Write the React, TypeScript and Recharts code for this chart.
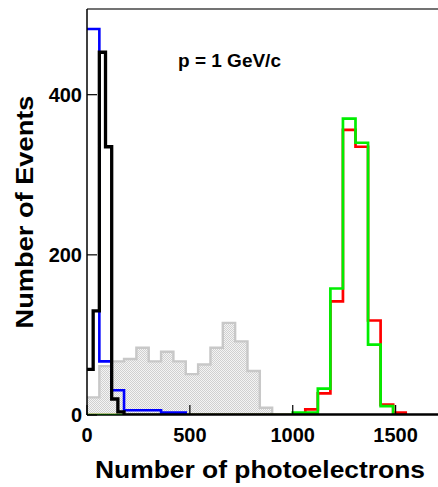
import React from 'react';
import { ComposedChart, Line, Area, XAxis, YAxis } from 'recharts';

// ---- Data ----
const X_MAX = 1706;
const Y_MAX = 507;
const xTicks = [0, 500, 1000, 1500];
const yTicks = [0, 200, 400];

// grey filled histogram: bins of width 60 starting at 0
const greyStart = 0;
const greyWidth = 60;
const greyCounts = [22, 61, 67, 70, 84, 67, 79, 67, 51, 63, 84, 115, 92, 55, 9];

// blue histogram: bins of width 60 starting at 0
const blueStart = 0;
const blueWidth = 60;
const blueCounts = [482, 67, 31, 6, 6, 6, 3, 3];

// black histogram: bins of width 30 starting at 0
const blackStart = 0;
const blackWidth = 30;
const blackCounts = [57, 130, 453, 335, 20, 4];

// green histogram: bins of width 61 starting at 1000
const greenStart = 1000;
const greenWidth = 61;
const greenCounts = [3, 3, 33, 158, 370, 340, 88, 11];

// red histogram: bins of width 61 starting at 1000
const redStart = 1000;
const redWidth = 61;
const redCounts = [0, 7, 27, 142, 356, 335, 118, 13, 3];

type Pt = { x: number; y: number };
function steps(start: number, width: number, counts: number[], lead: boolean, tail?: number): Pt[] {
  const pts: Pt[] = [];
  if (lead && start > 0) pts.push({ x: 0, y: 0 });
  counts.forEach((c, i) => pts.push({ x: start + i * width, y: c }));
  pts.push({ x: start + counts.length * width, y: 0 });
  if (tail !== undefined) pts.push({ x: tail, y: 0 });
  return pts;
}

const greyData = steps(greyStart, greyWidth, greyCounts, false);
const blueData = steps(blueStart, blueWidth, blueCounts, false);
const blackData = steps(blackStart, blackWidth, blackCounts, false, X_MAX);
const greenData = steps(greenStart, greenWidth, greenCounts, true);
const redData = steps(redStart, redWidth, redCounts, true);

const FONT = '"Liberation Sans", Arial, Helvetica, sans-serif';

const YTick = (props: any) => {
  const { x, y, payload } = props;
  return (
    <text x={x} y={y} dy="0.36em" textAnchor="end" fontFamily={FONT} fontWeight="bold" fontSize={20} fill="#000">
      {payload.value}
    </text>
  );
};

const XTick = (props: any) => {
  const { x, y, payload } = props;
  return (
    <text x={x} y={y} dy="0.72em" textAnchor="middle" fontFamily={FONT} fontWeight="bold" fontSize={20} fill="#000">
      {payload.value}
    </text>
  );
};

const XTitle = (props: any) => {
  const vb = props.viewBox || { x: 87, y: 415 };
  return (
    <text x={vb.x + 8} y={vb.y + 63} fontFamily={FONT} fontWeight="bold" fontSize={24} fill="#000"
      textLength={330} lengthAdjust="spacingAndGlyphs">
      Number of photoelectrons
    </text>
  );
};

const YTitle = (props: any) => {
  const vb = props.viewBox || { x: 0, y: 9, height: 406 };
  const cx = vb.x + 33;
  const cy = vb.y + vb.height / 2;
  return (
    <text x={cx} y={cy} textAnchor="middle" transform={`rotate(-90, ${cx}, ${cy})`} fontFamily={FONT}
      fontWeight="bold" fontSize={24} fill="#000" textLength={233} lengthAdjust="spacingAndGlyphs">
      Number of Events
    </text>
  );
};

const Annot = (props: any) => {
  const vb = props.viewBox || { x: 87, y: 0 };
  return (
    <text x={vb.x + 91} y={vb.y + 67} fontFamily={FONT} fontWeight="bold" fontSize={19} fill="#000">
      p = 1 GeV/c
    </text>
  );
};

export default function App() {
  return (
    <div style={{ position: 'absolute', left: 0, top: 0, width: 438, height: 487, overflow: 'hidden', background: '#fff' }}>
      <svg width={0} height={0} style={{ position: 'absolute' }}>
        <defs>
          <pattern id="greyDots" width="2" height="2" patternUnits="userSpaceOnUse">
            <rect width="2" height="2" fill="#f4f4f4" />
            <rect x="0" y="0" width="1" height="1" fill="#d0d0d0" />
            <rect x="1" y="1" width="1" height="1" fill="#d0d0d0" />
          </pattern>
        </defs>
      </svg>
      <ComposedChart width={438} height={487} margin={{ top: 0, right: 0, bottom: 0, left: 0 }}>
        <XAxis
          xAxisId="main"
          dataKey="x"
          type="number"
          domain={[0, X_MAX]}
          allowDataOverflow
          ticks={xTicks}
          height={72}
          tickSize={-10}
          tickMargin={23}
          tick={<XTick />}
          tickLine={{ stroke: '#000', strokeWidth: 1.2 }}
          axisLine={{ stroke: '#000', strokeWidth: 1.5 }}
          label={{ content: <XTitle /> }}
        />
        <XAxis
          xAxisId="top"
          orientation="top"
          dataKey="x"
          type="number"
          domain={[0, X_MAX]}
          allowDataOverflow
          height={9}
          tick={false}
          tickLine={false}
          axisLine={{ stroke: '#444', strokeWidth: 1.5 }}
          label={{ content: <Annot /> }}
        />
        <YAxis
          type="number"
          domain={[0, Y_MAX]}
          allowDataOverflow
          ticks={yTicks}
          width={87}
          tickSize={-10}
          tickMargin={15}
          tick={<YTick />}
          tickLine={{ stroke: '#000', strokeWidth: 1.2 }}
          axisLine={{ stroke: '#000', strokeWidth: 1.5 }}
          label={{ content: <YTitle /> }}
        />
        <Area
          xAxisId="main"
          data={greyData}
          dataKey="y"
          type="stepAfter"
          stroke="#c8c8c8"
          strokeWidth={2.4}
          fill="url(#greyDots)"
          fillOpacity={1}
          dot={false}
          activeDot={false}
          isAnimationActive={false}
        />
        <Line xAxisId="main" data={redData} dataKey="y" type="stepAfter" stroke="#ff0000" strokeWidth={2.7}
          dot={false} activeDot={false} isAnimationActive={false} />
        <Line xAxisId="main" data={greenData} dataKey="y" type="stepAfter" stroke="#00ee00" strokeWidth={2.7}
          dot={false} activeDot={false} isAnimationActive={false} />
        <Line xAxisId="main" data={blueData} dataKey="y" type="stepAfter" stroke="#0000ff" strokeWidth={2.6}
          dot={false} activeDot={false} isAnimationActive={false} />
        <Line xAxisId="main" data={blackData} dataKey="y" type="stepAfter" stroke="#000000" strokeWidth={3.3}
          dot={false} activeDot={false} isAnimationActive={false} />
      </ComposedChart>
    </div>
  );
}
